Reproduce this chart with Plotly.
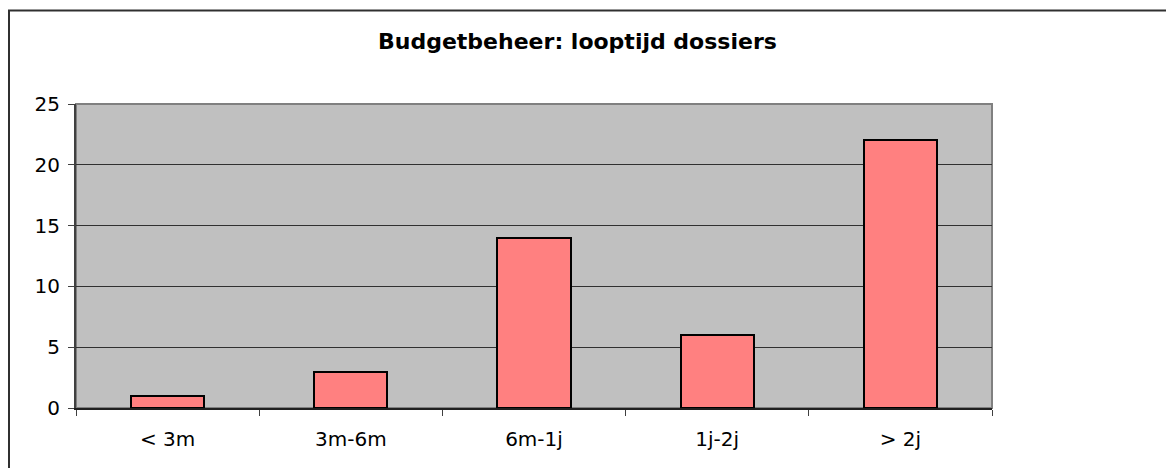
import plotly.graph_objects as go

# Dados
categorias = ["< 3m", "3m-6m", "6m-1j", "1j-2j", "> 2j"]
aantal = [1, 3, 14, 6, 22]
y_ticks = [0, 5, 10, 15, 20, 25]

# page has an 8px body margin, so positions are shifted by 8
OFF = 8
W, H = 1174 - OFF, 468 - OFF
L, T = 76 - OFF, 104 - OFF
R, B = W - (992 - OFF), H - (408 - OFF)
pw, ph = W - L - R, H - T - B


def px_x(x):
    return (x - OFF - L) / pw


def px_y(y):
    return 1 - (y - OFF - T) / ph


fig = go.Figure()
fig.add_trace(go.Bar(
    x=categorias, y=aantal, width=0.4,
    marker=dict(color="#FF8080", line=dict(color="black", width=2)),
))

fig.update_layout(
    width=W, height=H,
    margin=dict(l=L, r=R, t=T, b=B),
    paper_bgcolor="white", plot_bgcolor="#C0C0C0",
    font=dict(family="DejaVu Sans, Verdana", size=20, color="black"),
    showlegend=False,
    bargap=0,
    xaxis=dict(
        showgrid=False, ticks="outside", tickson="boundaries", ticklen=6,
        tickcolor="#404040", showline=True, linecolor="#202020", linewidth=2,
        tickfont=dict(size=20), ticklabelstandoff=12,
    ),
    yaxis=dict(
        range=[0, 25], tickvals=y_ticks, showgrid=True, gridcolor="#303030",
        gridwidth=1, ticks="outside", ticklen=6, tickcolor="#404040",
        showline=True, linecolor="#404040", linewidth=2, zeroline=False,
        tickfont=dict(size=20), ticklabelstandoff=4,
    ),
    shapes=[
        # plot border
        dict(type="rect", xref="paper", yref="paper", x0=0, x1=1, y0=0, y1=1,
             line=dict(color="#808080", width=2), layer="below"),
        # outer chart border
        dict(type="line", xref="paper", yref="paper",
             x0=px_x(8), x1=px_x(1200), y0=px_y(10.5), y1=px_y(10.5),
             line=dict(color="#303030", width=2)),
        dict(type="line", xref="paper", yref="paper",
             x0=px_x(9), x1=px_x(9), y0=px_y(10), y1=px_y(500),
             line=dict(color="#303030", width=2)),
    ],
    annotations=[
        dict(text="<b>Budgetbeheer: looptijd dossiers</b>", xref="paper", yref="paper",
             x=px_x(577), y=px_y(42), showarrow=False, font=dict(size=22),
             xanchor="center", yanchor="middle"),
    ],
)

fig.write_html("out.html")
